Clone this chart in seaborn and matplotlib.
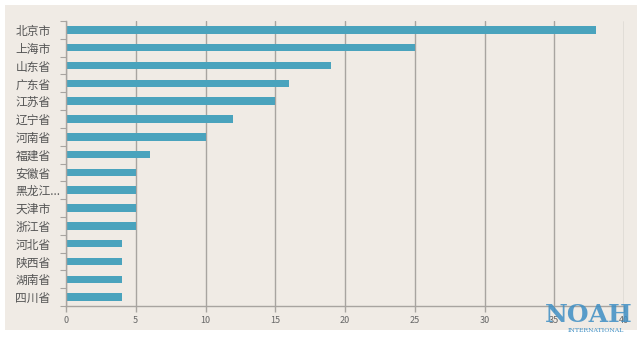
import matplotlib
matplotlib.use("Agg")
import matplotlib.pyplot as plt
import seaborn as sns
import pandas as pd
from matplotlib.patches import Rectangle
from matplotlib.ticker import FixedLocator

provinces = ["北京市", "上海市", "山东省", "广东省", "江苏省", "辽宁省", "河南省", "福建省",
             "安徽省", "黑龙江...", "天津市", "浙江省", "河北省", "陕西省", "湖南省", "四川省"]
counts = [38, 25, 19, 16, 15, 12, 10, 6, 5, 5, 5, 5, 4, 4, 4, 4]
xticks = [0, 5, 10, 15, 20, 25, 30, 35, 40]

sns.set_theme(style="white")
plt.rcParams['font.family'] = ['Noto Sans CJK SC', 'DejaVu Sans']

bg = "#f0ebe5"
fig = plt.figure(figsize=(6.4, 3.37), dpi=100, facecolor="white")
fig.patches.append(Rectangle((5/640, 1-330/337), 632/640, 325/337,
                             transform=fig.transFigure, facecolor=bg,
                             edgecolor="none", zorder=-10))
ax = fig.add_axes([66/640, 1-306/337, 558/640, 285/337])
ax.set_zorder(1)
ax.set_facecolor(bg)

df = pd.DataFrame({"province": provinces, "count": counts})
sns.barplot(data=df, y="province", x="count", orient="h", color="#4aa3bd",
            saturation=1, width=0.42, linewidth=0, ax=ax)

ax.set_xlim(0, 40)
ax.set_xticks(xticks)
ax.set_xticklabels([str(v) for v in xticks], fontsize=6.5, color="#666666")
ax.xaxis.grid(True, color="#a8a4a0", linewidth=1)
ax.set_axisbelow(True)
ax.set_xlabel("")
ax.set_ylabel("")
ax.tick_params(axis="y", labelsize=8.5, labelcolor="#555555", length=0, pad=36.5)
for lab in ax.get_yticklabels():
    lab.set_horizontalalignment("left")
ax.yaxis.set_minor_locator(FixedLocator([i - 0.5 for i in range(len(provinces) + 1)]))
ax.tick_params(axis="y", which="minor", length=4, color="#a8a4a0", width=0.8, left=True)
ax.tick_params(axis="x", length=4, color="#a8a4a0", width=1, bottom=True, pad=3)
for s in ["top", "right"]:
    ax.spines[s].set_visible(False)
for s in ["left", "bottom"]:
    ax.spines[s].set_color("#a8a4a0")
    ax.spines[s].set_linewidth(1)

fig.text(589/640, 1-315/337, "NOAH", fontsize=18, color="#3f8fc4", alpha=0.85,
         family="DejaVu Serif", ha="center", va="center", weight="bold", zorder=5)
fig.text(596/640, 1-331/337, "INTERNATIONAL", fontsize=4.5, color="#3f8fc4",
         family="DejaVu Serif", ha="center", va="center", zorder=5)

fig.savefig("out.png", dpi=100, facecolor="white")
